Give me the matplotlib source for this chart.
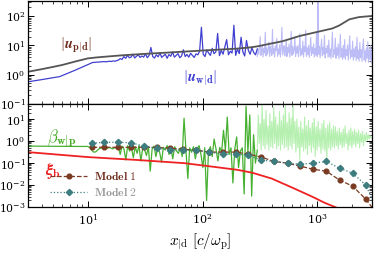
import matplotlib
matplotlib.use("Agg")
import matplotlib.pyplot as plt
import numpy as np

plt.rcParams['mathtext.fontset'] = 'cm'
plt.rcParams['font.family'] = ['DejaVu Serif']

# |u_p|d| (gray, smooth)
gray_x = [3, 4, 5, 6, 8, 10, 12, 15, 20, 30, 50, 100, 200, 256, 300, 500, 700,
          1000, 1350, 1550, 1900, 2300, 3000]
gray_y = [1.25, 1.55, 1.85, 2.15, 2.9, 3.6, 3.9, 4.2, 4.6, 5.1, 5.7, 6.7, 7.8,
          8.5, 9.3, 14, 21, 29, 38, 48, 78, 93, 102]

# |u_w|d| (blue): smooth start, noisy part (log10 values), faded part x>300
blue_smooth_x = [3, 3.9, 5.7, 7.7, 10, 11]
blue_smooth_y = [0.57, 0.67, 0.86, 1.4, 2.2, 2.6]
blue_noise_log = [
    0.43, 0.43, 0.44, 0.44, 0.45, 0.44, 0.45, 0.46, 0.45, 0.47, 0.46, 0.48, 0.50,
    0.55, 0.52, 0.62, 0.56, 0.66, 0.58, 0.60, 0.70, 0.57, 0.63, 0.68, 0.59, 0.64,
    0.60, 0.72, 0.58, 0.66, 0.93, 0.62, 0.57, 0.68, 0.61, 0.74, 0.59, 0.65, 0.70,
    0.56, 0.69, 0.63, 0.78, 0.60, 0.66, 0.72, 0.58, 0.64, 0.85, 0.62, 0.69, 0.60,
    0.73, 0.66, 0.59, 0.71,
    0.68, 0.80, 1.62, 0.70, 0.62, 0.85, 0.74, 0.66, 0.90, 0.72, 0.78, 1.41, 0.65,
    0.83, 0.70, 0.95, 1.20, 0.68, 0.80, 0.74, 1.69, 0.66, 0.88, 0.72, 1.28, 0.78,
    0.64, 1.17, 0.84, 0.70, 0.92, 0.76, 0.68, 0.88]
blue_light_log = [
    0.62, 0.88, 0.70, 0.95, 1.30, 0.66, 0.84, 0.98, 0.61, 0.90, 0.74, 1.45, 0.64, 0.92, 0.70, 0.86, 1.10, 0.62, 0.96, 0.78,
    0.65, 1.55, 0.72, 0.90, 0.60, 0.98, 0.82, 1.25, 0.63, 0.88, 0.70, 1.02, 0.61, 0.94, 1.62, 0.68, 0.86, 0.99, 0.64, 0.80,
    1.20, 0.62, 0.93, 0.75, 1.05, 0.60, 0.88, 1.48, 0.66, 0.97, 0.71, 0.85, 1.30, 0.62, 0.95, 0.73, 1.00, 0.61, 0.90, 1.40,
    0.64, 0.88, 0.70, 1.15, 0.60, 0.96, 0.78, 1.52, 0.63, 0.92, 0.68, 1.00, 0.59, 0.89, 1.28, 0.66, 0.94, 0.72, 1.05, 0.60,
    0.90, 0.67, 1.42, 0.62, 2.60, 0.70, 0.97, 0.58, 0.88, 1.22, 0.64, 0.93, 0.70, 1.35, 0.57, 0.90, 0.74, 1.00, 0.59, 1.18,
    0.62, 0.88, 0.55, 0.95, 1.46, 0.60, 0.85, 0.70, 1.25, 0.56, 0.92, 0.66, 1.05, 0.54, 0.87, 1.38, 0.60, 0.90, 0.52, 1.00,
    0.58, 1.20, 0.53, 0.86, 0.65, 1.02, 0.50, 0.90, 1.33, 0.56, 0.84, 0.62, 1.15, 0.49, 0.88, 0.60, 0.96, 0.48, 1.28, 0.55,
    0.84, 0.46, 1.10, 0.58, 0.86, 0.45, 0.98, 1.22, 0.50, 0.82, 0.44, 0.92, 0.56, 1.12, 0.42, 0.85, 0.52, 1.00, 0.40, 0.80]

# beta_w|p (green)
green_smooth_x = [3, 5, 8, 10]
green_smooth_y = [0.60, 0.59, 0.58, 0.58]
green_noise_log = [
    -0.30, -0.42, -0.50, -0.48, -0.40, -0.33, -0.30, -0.32,
    -0.30, -0.33, -0.28, -0.31, -0.35, -0.29, -0.32,
    -0.25, -0.60, -0.22, -0.35, -0.85, -0.20, -0.45, -0.30, -0.75, -0.25,
    -0.55, -0.20, -0.90, -0.30, -0.40, -0.65, -0.25, -1.36, -0.35, -0.22,
    -0.70, -0.30, -0.50, -0.95, -0.28, -0.40, -0.20, -0.60, -0.33, -0.80,
    -0.25, -0.45, -0.55, -0.30, -0.70, 1.05,
    -0.40, -1.70, -0.30, -0.50, -0.25, -0.80, -0.35, -0.20, -0.60, -1.20,
    -0.30, -2.70, -0.45, -0.25, -0.70, 0.10, -0.35, -0.90, -0.28, -0.50,
    0.50, -0.40, 1.10, -0.60, -0.30, -1.90, -0.35, 0.20, -1.20, -0.45,
    -0.30, -2.40, 1.60, -0.50, 1.20, -2.50, 0.30, -1.00, -0.40]
green_light_log = [
    -0.30, 1.20, -0.10, 0.80, -0.40, 1.70, -0.20, 1.00, -0.35, 1.40,
    -0.15, 0.70, -0.40, 1.25, -0.25, 0.90, -0.30, 1.55, -0.10, 1.10,
    -0.35, 0.75, -0.20, 1.35, -0.40, 0.95, -0.15, 1.20, -0.30, 1.70,
    -0.25, 0.85, -0.40, 1.30, -0.20, 1.05, -0.35, 1.65, -0.10, 0.90,
    -0.50, 1.00, -0.30, 0.65, -0.86, 0.90, -0.25, 0.55, -0.45, 1.10,
    -0.35, 0.70, -0.60, 0.95, -0.20, 0.60, -0.50, 0.85, -0.30, 1.05,
    -0.70, 0.65, -0.40, 0.90, -0.25, 0.55, -0.55, 0.80, -0.35, 0.95,
    -0.45, 0.60, -0.80, 0.75, -0.30, 0.85, -0.40, 0.55, -0.25, 0.70,
    -0.30, 0.65, -0.20, 0.45, -0.35, 0.60, -0.15, 0.40, -0.30, 0.55,
    -0.25, 0.70, -0.10, 0.35, -0.40, 0.50, -0.20, 0.60, -0.30, 0.45,
    -0.15, 0.55, -0.25, 0.40, -0.10, 0.50, -0.30, 0.35, -0.05, 0.45,
    -0.20, 0.30, 0.00, 0.40, 0.05, 0.30, 0.10, 0.25, 0.15, 0.20]

# xi_b (red)
red_x = [3, 10, 27, 70, 135, 200, 270, 400, 630, 900, 1150, 1500]
red_y = [0.32, 0.19, 0.14, 0.10, 0.065, 0.05, 0.037, 0.02, 0.007, 0.003,
         0.0016, 0.0009]

# models
model_x = [11, 14, 18.5, 24, 31, 40, 52, 68, 88, 115, 150, 195, 250, 325, 420,
           550, 710, 920, 1200, 1560, 2030, 2640, 3300]
model1_y = [0.53, 0.53, 0.53, 0.53, 0.53, 0.52, 0.48, 0.43, 0.39, 0.32, 0.32,
            0.32, 0.26, 0.19, 0.12, 0.10, 0.073, 0.053, 0.043, 0.017, 0.009,
            0.0023, 0.0005]
model2_y = [0.81, 0.90, 0.90, 0.85, 0.59, 0.48, 0.41, 0.39, 0.39, 0.32, 0.26,
            0.26, 0.23, 0.137, 0.12, 0.10, 0.09, 0.10, 0.12, 0.059, 0.035,
            0.010, 0.0008]

bx = np.concatenate([blue_smooth_x, np.geomspace(12, 300, len(blue_noise_log))])
by = np.concatenate([blue_smooth_y, 10 ** np.array(blue_noise_log)])
blx = np.geomspace(300, 3000, len(blue_light_log))
bly = 10 ** np.array(blue_light_log)
gx = np.concatenate([green_smooth_x, np.geomspace(10.5, 300, len(green_noise_log))])
gy = np.concatenate([green_smooth_y, 10 ** np.array(green_noise_log)])
glx = np.geomspace(300, 3000, len(green_light_log))
gly = 10 ** np.array(green_light_log)

fig = plt.figure(figsize=(3.74, 2.56), dpi=100)
ax1 = fig.add_axes([0.074, 0.594, 0.921, 0.402])
ax2 = fig.add_axes([0.074, 0.191, 0.921, 0.403], sharex=ax1)

ax1.plot(blx, bly, color='#bcbcf6', lw=0.8)
ax1.plot(bx, by, color='#4040d0', lw=0.9)
ax1.plot(gray_x, gray_y, color='#555555', lw=1.3)
ax1.text(0.142, 0.573, r'$|\mathbfit{u}_{\mathbf{p|d}}|$', transform=ax1.transAxes,
         color='#6e2c1e', fontsize=10.5, ha='center', va='center')
ax1.text(0.50, 0.25, r'$|\mathbfit{u}_{\mathbf{w|d}}|$', transform=ax1.transAxes,
         color='#3a3ad0', fontsize=10.5, ha='center', va='center')

ax2.plot(glx, gly, color='#b6f0b0', lw=0.8)
ax2.plot(gx, gy, color='#46b030', lw=0.9)
ax2.plot(red_x, red_y, color='#ee2222', lw=1.3)
ax2.plot(model_x, model1_y, '--', color='#7a3b22', marker='o', ms=3.4, lw=0.9,
         label=r'$\mathbf{Model\ 1}$')
ax2.plot(model_x, model2_y, ':', color='#3d7d80', marker='D', ms=3.2, lw=0.9,
         label=r'$\mathbf{Model\ 2}$')
ax2.text(0.098, 0.66, r'$\beta_{\mathbf{w|p}}$', transform=ax2.transAxes,
         color='#44aa22', fontsize=12, ha='center', va='center')
ax2.text(0.072, 0.35, r'$\boldsymbol{\xi}_{\mathbf{b}}$', transform=ax2.transAxes,
         color='#ee2222', fontsize=12, ha='center', va='center')
ax2.legend(loc='lower left', frameon=False, fontsize=8.5, handlelength=3.2,
           labelcolor=['#6e2c1e', '#9a9a9a'], borderaxespad=0.0,
           bbox_to_anchor=(0.05, 0.03), labelspacing=0.25, handletextpad=0.6)

for ax in (ax1, ax2):
    ax.set_xscale('log')
    ax.set_yscale('log')
    ax.set_xlim(3, 3000)
    ax.tick_params(which='both', direction='in', top=True, right=True,
                   labelsize=7.8, pad=1.5)
    ax.tick_params(which='major', length=4, width=0.7)
    ax.tick_params(which='minor', length=2, width=0.5)
    for s in ax.spines.values():
        s.set_linewidth(0.9)
ax1.set_ylim(0.1, 330)
ax2.set_ylim(1e-3, 50)
ax1.tick_params(labelbottom=False)
ax2.tick_params(axis='x', pad=4, labelsize=8)
ax2.set_xlabel(r'$x_{|\mathrm{d}}\ [c/\omega_\mathrm{p}]$', fontsize=11, labelpad=3)

fig.savefig('out.png', dpi=100)
